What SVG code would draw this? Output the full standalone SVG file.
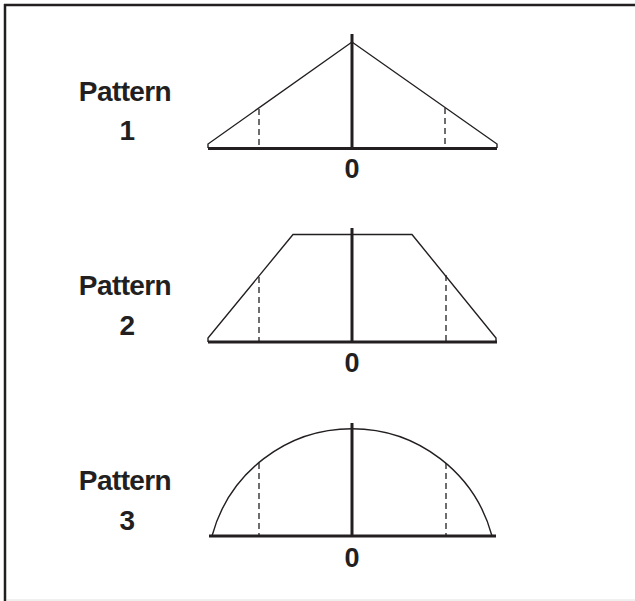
<svg xmlns="http://www.w3.org/2000/svg" width="635" height="601" viewBox="0 0 635 601">
<style>
.frame{stroke:#231f20;stroke-width:2.5;fill:none}
.shape{stroke:#231f20;stroke-width:1.4;fill:none;stroke-linejoin:miter}
.axis{stroke:#231f20;stroke-width:3;fill:none}
.dash{stroke:#231f20;stroke-width:1.3;stroke-dasharray:6,4;fill:none}
.lbl{font-family:"Liberation Sans",Arial,sans-serif;font-weight:bold;font-size:28px;letter-spacing:-0.6px;fill:#231f20;text-anchor:middle}
.zero{font-family:"Liberation Sans",Arial,sans-serif;font-weight:bold;font-size:27px;fill:#231f20;text-anchor:middle}
</style>
<rect width="635" height="601" fill="#ffffff"/>
<g id="frame">
<line class="frame" x1="5" y1="4" x2="5" y2="601"/>
<line class="frame" x1="4" y1="5" x2="635" y2="5"/>
<line x1="7" y1="600" x2="635" y2="600" stroke="#e0e0e0" stroke-width="1"/>
</g>
<g id="pattern1">
<text class="lbl" x="125" y="101">Pattern</text>
<text class="lbl" x="127" y="140">1</text>
<polyline class="shape" points="208,148 208,144 352,42 497,144 497,148"/>
<line class="dash" x1="259" y1="109" x2="259" y2="148"/>
<line class="dash" x1="445" y1="108" x2="445" y2="148"/>
<line class="axis" x1="208" y1="148.5" x2="497" y2="148.5"/>
<line class="axis" x1="352" y1="34" x2="352" y2="148"/>
<text class="zero" x="352" y="178">0</text>
</g>
<g id="pattern2">
<text class="lbl" x="125" y="295">Pattern</text>
<text class="lbl" x="127" y="335">2</text>
<polyline class="shape" points="208,342 208,338 293,234.5 412,234.5 496,338 496,342"/>
<line class="dash" x1="259" y1="277" x2="259" y2="342"/>
<line class="dash" x1="446" y1="275" x2="446" y2="342"/>
<line class="axis" x1="208" y1="342" x2="497" y2="342"/>
<line class="axis" x1="352" y1="228" x2="352" y2="342"/>
<text class="zero" x="352" y="372">0</text>
</g>
<g id="pattern3">
<text class="lbl" x="125" y="490">Pattern</text>
<text class="lbl" x="127" y="530">3</text>
<path class="shape" d="M212,536 A145,145 0 0 1 492,536"/>
<line class="dash" x1="259" y1="463" x2="259" y2="536"/>
<line class="dash" x1="446" y1="463" x2="446" y2="536"/>
<line class="axis" x1="209" y1="536" x2="496" y2="536"/>
<line class="axis" x1="352" y1="423" x2="352" y2="536"/>
<text class="zero" x="352" y="567">0</text>
</g>
</svg>
